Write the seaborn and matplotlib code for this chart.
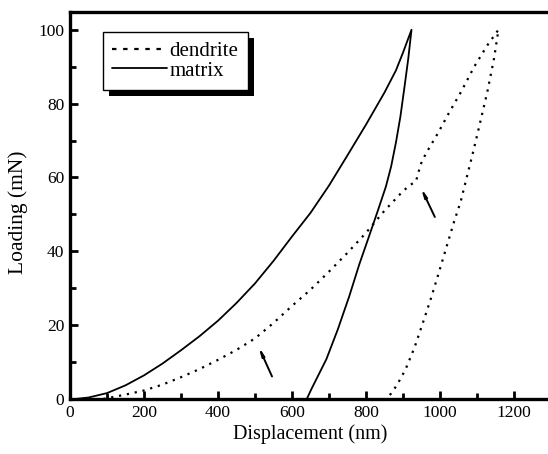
import matplotlib
matplotlib.use("Agg")
import matplotlib.pyplot as plt
import matplotlib.transforms as mtransforms
from matplotlib.patches import Rectangle
from matplotlib.lines import Line2D
from matplotlib.ticker import MultipleLocator
import seaborn as sns

# ---- data ----
matrix_load_x = [15, 50, 100, 150, 200, 250, 300, 350, 400, 450, 500, 550, 600, 650, 700, 750, 800, 850, 881, 900, 923]
matrix_load_y = [0, 0.4, 1.6, 3.7, 6.4, 9.6, 13.2, 17.0, 21.2, 26.0, 31.3, 37.4, 44.0, 50.4, 57.8, 66.0, 74.3, 83.0, 89.0, 93.8, 100]
matrix_unload_x = [923, 914, 904, 893, 881, 868, 854, 832, 808, 782, 755, 724, 693, 666, 652, 640]
matrix_unload_y = [100, 92.0, 84.5, 76.5, 69.5, 63.0, 57.6, 51.0, 44.0, 36.5, 27.9, 18.9, 10.8, 5.4, 2.6, 0]

dendrite_load_x = [90, 150, 200, 250, 300, 350, 400, 450, 500, 550, 600, 650, 700, 750, 800, 850, 900, 920,
                   935, 942, 949, 962, 994, 1021, 1057, 1092, 1128, 1158]
dendrite_load_y = [0, 1.2, 2.3, 3.9, 5.9, 8.1, 10.6, 13.3, 16.4, 20.6, 25.2, 29.6, 34.5, 39.6, 45.0, 51.0, 56.3, 58.0,
                   58.9, 61.5, 63.8, 66.5, 71.9, 76.9, 83.2, 89.9, 95.8, 100]
dendrite_unload_x = [1158, 1146, 1128, 1110, 1092, 1074, 1056, 1038, 1020, 998, 976, 953, 931, 908, 894, 881, 868, 854]
dendrite_unload_y = [100, 92.2, 83.2, 75.5, 67.9, 60.7, 53.5, 48.0, 42.0, 34.6, 27.4, 20.4, 13.9, 8.3, 5.6, 3.4, 1.5, 0]

arrow_tails = [(546, 6.1), (986, 49.3)]
arrow_heads = [(510, 14.1), (949, 57.1)]

series_labels = ["dendrite", "matrix"]
x_label = "Displacement (nm)"
y_label = "Loading (mN)"

# ---- style ----
sns.set_style("ticks")
plt.rcParams["font.family"] = ["Liberation Serif", "DejaVu Serif"]
plt.rcParams["xtick.direction"] = "in"
plt.rcParams["ytick.direction"] = "in"
plt.rcParams["xtick.color"] = "black"
plt.rcParams["ytick.color"] = "black"
plt.rcParams["axes.edgecolor"] = "black"
plt.rcParams["axes.labelcolor"] = "black"
plt.rcParams["text.color"] = "black"

fig = plt.figure(figsize=(5.48, 4.54), dpi=100)
ax = fig.add_axes([70 / 548, 55 / 454, 481 / 548, 387 / 454])

dot_style = (0, (1, 2.6))
sns.lineplot(x=dendrite_load_x + dendrite_unload_x[1:], y=dendrite_load_y + dendrite_unload_y[1:],
             sort=False, estimator=None, color="black", lw=1.6, ax=ax)
ax.lines[-1].set_linestyle(dot_style)
sns.lineplot(x=matrix_load_x + matrix_unload_x[1:], y=matrix_load_y + matrix_unload_y[1:],
             sort=False, estimator=None, color="black", lw=1.3, ax=ax)
for ln in ax.lines:
    ln.set_solid_joinstyle("round")

for (tx, ty), (hx, hy) in zip(arrow_tails, arrow_heads):
    ax.annotate("", xy=(hx, hy), xytext=(tx, ty),
                arrowprops=dict(arrowstyle="-|>,head_length=0.45,head_width=0.08",
                                lw=1.4, color="black", shrinkA=0, shrinkB=0))

ax.set_xlim(0, 1300)
ax.set_ylim(0, 104.8)
ax.xaxis.set_major_locator(MultipleLocator(200))
ax.xaxis.set_minor_locator(MultipleLocator(100))
ax.yaxis.set_major_locator(MultipleLocator(20))
ax.yaxis.set_minor_locator(MultipleLocator(10))
ax.tick_params(which="major", length=6, width=2, labelsize=12.5, pad=4, colors="black")
ax.tick_params(which="minor", length=4, width=2, colors="black")
ax.tick_params(top=False, right=False, which="both")
for s in ax.spines.values():
    s.set_linewidth(2.4)
    s.set_color("black")
    s.set_visible(True)

ax.set_xlabel(x_label, fontsize=14.5, labelpad=3)
ax.set_ylabel(y_label, fontsize=15.5)
ax.yaxis.set_label_coords(-0.087, 0.483)

handles = [Line2D([], [], color="black", lw=1.6, linestyle=(0, (2, 3))),
           Line2D([], [], color="black", lw=1.3)]
leg = ax.legend(handles, series_labels, loc="upper left", bbox_to_anchor=(0.0686, 0.948),
                frameon=True, fancybox=False, edgecolor="black", framealpha=1,
                fontsize=15, handlelength=2.6, handletextpad=0.15, borderpad=0.45,
                labelspacing=0.0, borderaxespad=0)
leg.get_frame().set_linewidth(1.0)
leg.set_zorder(5)

fig.canvas.draw()
bb = leg.get_window_extent()
shadow = Rectangle((bb.x0 + 6, bb.y0 - 6), bb.width, bb.height, facecolor="black",
                   edgecolor="none", transform=mtransforms.IdentityTransform(), zorder=4.9)
ax.add_patch(shadow)
ax.set_xlim(0, 1300)
ax.set_ylim(0, 104.8)

fig.savefig("out.png", dpi=100)
